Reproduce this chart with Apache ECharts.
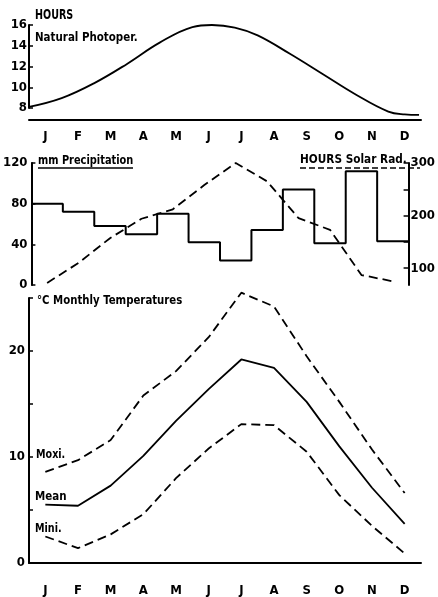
<!DOCTYPE html>
<html>
<head>
<meta charset="utf-8">
<script src="https://cdn.jsdelivr.net/npm/echarts@6/dist/echarts.min.js"></script>
<style>
html, body { margin: 0; padding: 0; background: #fff; }
#chart { width: 438px; height: 597px; }
</style>
</head>
<body>
<div id="chart"></div>
<script>
// month axis
var months = ['J', 'F', 'M', 'A', 'M', 'J', 'J', 'A', 'S', 'O', 'N', 'D'];

// natural photoperiod, position in months from 1 Jan and hours of daylight
var photoMonth = [0, 1, 2, 3, 4, 5, 5.6, 6.3, 7, 8, 9, 10, 11, 11.5, 11.94];
var photoHours = [8.1, 8.95, 10.4, 12.25, 14.3, 15.8, 16.0, 15.75, 15.0, 13.2, 11.25, 9.3, 7.65, 7.38, 7.33];

// precipitation (mm) and solar radiation (hours)
var precipitation = [80, 72, 58, 50, 70, 42, 24, 54, 94, 41, 112, 43];
var solarRad = [72, 110, 157, 194, 212, 258, 300, 265, 195, 173, 87, 75];

// monthly temperatures (deg C)
var tempMax = [8.6, 9.7, 11.6, 15.8, 18.1, 21.3, 25.5, 24.2, 19.5, 15.2, 10.7, 6.6];
var tempMean = [5.5, 5.4, 7.3, 10.1, 13.4, 16.4, 19.2, 18.4, 15.2, 11.0, 7.1, 3.7];
var tempMin = [2.5, 1.4, 2.7, 4.6, 8.0, 10.8, 13.1, 13.0, 10.5, 6.4, 3.5, 0.9];

var FONT = '"DejaVu Sans Condensed", "DejaVu Sans", sans-serif';
var ink = '#000';

var chart = echarts.init(document.getElementById('chart'));

function monthAxis(grid, show, offset) {
    return {
        type: 'category',
        gridIndex: grid,
        data: months,
        boundaryGap: true,
        show: show,
        offset: offset || 0,
        axisLine: { lineStyle: { color: ink, width: 2 } },
        axisTick: { inside: true, length: 4, lineStyle: { color: ink, width: 1.5 } },
        axisLabel: { color: ink, fontFamily: FONT, fontWeight: 'bold', fontSize: 13, margin: 10 }
    };
}
function monthValueAxis(grid) {
    return { type: 'value', gridIndex: grid, min: 0, max: 12, show: false };
}
function leftAxis(grid, min, max, interval, extra) {
    var ax = {
        type: 'value',
        gridIndex: grid,
        min: min,
        max: max,
        interval: interval,
        splitLine: { show: false },
        axisLine: { show: true, lineStyle: { color: ink, width: 2 } },
        axisTick: { show: true, inside: true, length: 4, lineStyle: { color: ink, width: 1.5 } },
        axisLabel: { color: ink, fontFamily: FONT, fontWeight: 'bold', fontSize: 13, margin: 4 }
    };
    for (var k in extra) ax[k] = extra[k];
    return ax;
}
function label(text, x, y, size, sx) {
    return {
        type: 'text', x: x, y: y, scaleX: sx,
        style: { text: text, font: 'bold ' + size + 'px ' + FONT, fill: ink, verticalAlign: 'middle' }
    };
}

var precipData = precipitation.map(function (v, i) { return [i, v]; });
precipData.push([12, precipitation[precipitation.length - 1]]);

var dashed = { color: ink, width: 1.8, type: [9, 5] };
var solid = { color: ink, width: 1.8 };

chart.setOption({
    animation: false,
    backgroundColor: '#fff',
    grid: [
        { left: 29, top: 25, width: 392, height: 83 },
        { left: 29, top: 163, width: 392, height: 122 },
        { left: 29, top: 298, width: 392, height: 268 }
    ],
    xAxis: [
        monthAxis(0, true, 12),
        monthValueAxis(0),
        monthAxis(1, false),
        monthValueAxis(1),
        monthAxis(2, true, 11)
    ],
    yAxis: [
        leftAxis(0, 8, 16, 2, { axisLabel: { color: ink, fontFamily: FONT, fontWeight: 'bold', fontSize: 13, margin: 2 } }),
        leftAxis(1, 0, 120, 40),
        {
            type: 'value',
            gridIndex: 1,
            position: 'right',
            min: 68,
            max: 300,
            splitLine: { show: false },
            axisLine: { show: true, lineStyle: { color: ink, width: 2 } },
            axisTick: { show: true, inside: true, length: 5, customValues: [100, 150, 200, 250, 300],
                lineStyle: { color: ink, width: 1.5 } },
            axisLabel: { color: ink, fontFamily: FONT, fontWeight: 'bold', fontSize: 13, margin: 2,
                customValues: [100, 200, 300] }
        },
        leftAxis(2, 0, 25, 5, {
            axisLabel: { color: ink, fontFamily: FONT, fontWeight: 'bold', fontSize: 13, margin: 4,
                formatter: function (v) { return v % 10 === 0 ? v : ''; } }
        })
    ],
    graphic: [
        label('HOURS', 35, 15, 14, 0.76),
        label('Natural Photoper.', 35, 38, 13, 0.88),
        label('mm Precipitation', 38, 161, 13, 0.84),
        { type: 'line', shape: { x1: 38, y1: 168, x2: 133, y2: 168 }, style: { stroke: ink, lineWidth: 1.3 } },
        label('HOURS Solar Rad.', 300, 160, 13, 0.9),
        { type: 'line', shape: { x1: 300, y1: 168, x2: 420, y2: 168 }, style: { stroke: ink, lineWidth: 1.5, lineDash: [6, 3] } },
        label('°C Monthly Temperatures', 37, 301, 13, 0.87),
        label('Moxi.', 36, 455, 13, 0.82),
        label('Mean', 35, 497, 13, 0.88),
        label('Mini.', 35, 529, 13, 0.82)
    ],
    series: [
        {
            name: 'Natural Photoper.',
            type: 'line',
            xAxisIndex: 1,
            yAxisIndex: 0,
            smooth: 0.4,
            showSymbol: false,
            clip: false,
            lineStyle: solid,
            data: photoMonth.map(function (m, i) { return [m, photoHours[i]]; })
        },
        {
            name: 'mm Precipitation',
            type: 'line',
            step: 'end',
            xAxisIndex: 3,
            yAxisIndex: 1,
            showSymbol: false,
            lineStyle: { color: ink, width: 2 },
            data: precipData
        },
        {
            name: 'HOURS Solar Rad.',
            type: 'line',
            xAxisIndex: 2,
            yAxisIndex: 2,
            showSymbol: false,
            clip: false,
            lineStyle: dashed,
            data: solarRad
        },
        {
            name: 'Moxi.',
            type: 'line',
            xAxisIndex: 4,
            yAxisIndex: 3,
            showSymbol: false,
            clip: false,
            lineStyle: dashed,
            data: tempMax
        },
        {
            name: 'Mean',
            type: 'line',
            xAxisIndex: 4,
            yAxisIndex: 3,
            showSymbol: false,
            clip: false,
            lineStyle: solid,
            data: tempMean
        },
        {
            name: 'Mini.',
            type: 'line',
            xAxisIndex: 4,
            yAxisIndex: 3,
            showSymbol: false,
            clip: false,
            lineStyle: dashed,
            data: tempMin
        }
    ]
});
</script>
</body>
</html>
